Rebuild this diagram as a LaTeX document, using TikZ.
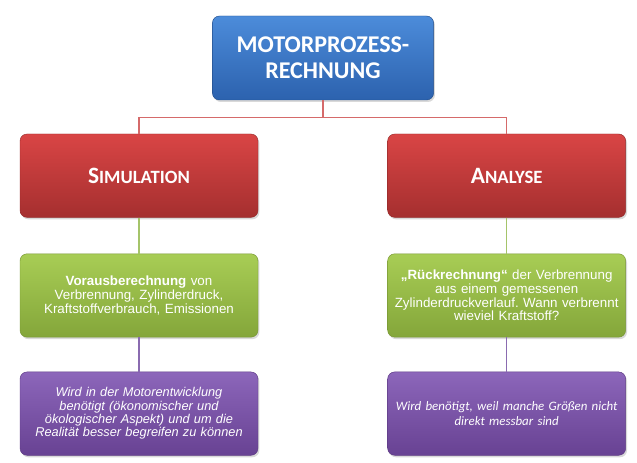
\documentclass[tikz,border=0pt]{standalone}
\usepackage{fontspec}
\setmainfont{Liberation Sans}
\newfontfamily\calibri{Carlito}
\usepackage{tikz}
\usetikzlibrary{positioning,shadows}
\frenchspacing

\definecolor{blueTop}{HTML}{4C8CDA}
\definecolor{blueBot}{HTML}{2C62AE}
\definecolor{redTop}{HTML}{D94545}
\definecolor{redBot}{HTML}{A52F2F}
\definecolor{greenTop}{HTML}{A8CD55}
\definecolor{greenBot}{HTML}{84A63A}
\definecolor{violetTop}{HTML}{8C66BA}
\definecolor{violetBot}{HTML}{684293}
\definecolor{redLine}{HTML}{D56A6A}
\definecolor{greenLine}{HTML}{A5C46A}
\definecolor{violetLine}{HTML}{8A6BB0}

\begin{document}
\begin{tikzpicture}[
  box/.style={rounded corners=6pt, text=white, align=center,
    minimum width=7.14cm, minimum height=2.5cm, text width=6.9cm,
    drop shadow={opacity=0.3, shadow xshift=0.04cm, shadow yshift=-0.06cm}},
  head/.style={box, draw=blueBot!80!black, top color=blueTop, bottom color=blueBot,
    minimum width=6.6cm, minimum height=2.52cm, text width=6.4cm,
    font=\calibri\bfseries\fontsize{20.5}{22.5}\selectfont},
  topic/.style={box, draw=redBot!90!black, top color=redTop, bottom color=redBot,
    font=\calibri\bfseries},
  info/.style={box, draw=greenBot!90!black, top color=greenTop, bottom color=greenBot,
    font=\fontsize{11.4}{11.6}\selectfont},
  note/.style={box, draw=violetBot!90!black, top color=violetTop, bottom color=violetBot,
    font=\itshape\fontsize{10.9}{11.4}\selectfont},
  link/.style={line width=1.2pt}
]
\useasboundingbox (0,0) rectangle (19.11,-13.89);

% Motorprozessrechnung
\node[head] (mpr) at (9.69,-1.74) {MOTORPROZESS-\\RECHNUNG};

% Simulation / Analyse
\node[topic] (sim) at (4.17,-5.27) {{\fontsize{20}{22}\selectfont S}{\fontsize{16}{22}\selectfont IMULATION}};
\node[topic] (ana) at (15.20,-5.27) {{\fontsize{20}{22}\selectfont A}{\fontsize{16}{22}\selectfont NALYSE}};

% Beschreibung
\node[info, below=1.08cm of sim] (simtxt) {\textbf{Vorausberechnung} von\\Verbrennung, Zylinderdruck,\\Kraftstoffverbrauch, Emissionen};
\node[info, below=1.08cm of ana] (anatxt) {\textbf{„Rückrechnung“} der Verbrennung\\aus einem gemessenen\\Zylinderdruckverlauf. Wann verbrennt\\wieviel Kraftstoff?};

% Begruendung
\node[note, below=1.03cm of simtxt] (simwhy) {Wird in der Motorentwicklung\\benötigt (ökonomischer und\\ökologischer Aspekt) und um die\\Realität besser begreifen zu können};
\node[note, below=1.03cm of anatxt, font=\calibri\itshape\fontsize{11}{12.5}\selectfont] (anawhy) {Wird benötigt, weil manche Größen nicht\\direkt messbar sind};

% Verbindungen
\draw[link, redLine] (mpr.south) -- ++(0,-0.51) -| (sim.north);
\draw[link, redLine] (mpr.south) -- ++(0,-0.51) -| (ana.north);
\draw[link, greenLine] (sim) -- (simtxt);
\draw[link, greenLine] (ana) -- (anatxt);
\draw[link, violetLine] (simtxt) -- (simwhy);
\draw[link, violetLine] (anatxt) -- (anawhy);

\end{tikzpicture}
\end{document}
